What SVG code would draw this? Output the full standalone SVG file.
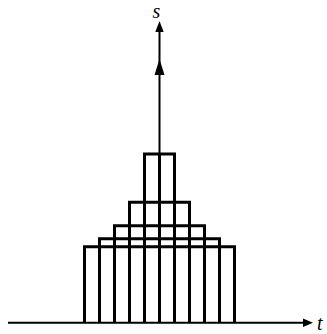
<svg xmlns="http://www.w3.org/2000/svg" width="327" height="334" viewBox="0 0 327 334">
<style>
.r{fill:none;stroke:#000;stroke-width:3;stroke-linejoin:miter}
.ax{fill:none;stroke:#000;stroke-width:2}
.lbl{font-family:"Liberation Serif",serif;font-style:italic;font-size:20px;fill:#000}
</style>
<rect width="327" height="334" fill="#fff"/>
<g id="axes">
<line class="ax" x1="8" y1="322.7" x2="306" y2="322.7"/>
<polygon points="313,322.7 303,318.5 303,326.9" fill="#000"/>
<line class="ax" x1="159.5" y1="322.7" x2="159.5" y2="28"/>
<polygon points="159.5,21 155.3,32 163.7,32" fill="#000"/>
<polygon points="159.5,59 154.5,75 164.5,75" fill="#000"/>
<text class="lbl" x="152.5" y="18">s</text>
<text class="lbl" x="317" y="330">t</text>
</g>
<g id="rects">
<polyline class="r" points="84.5,322.7 84.5,246.7 234.5,246.7 234.5,322.7"/>
<polyline class="r" points="99.5,322.7 99.5,238.7 219.5,238.7 219.5,322.7"/>
<polyline class="r" points="114.5,322.7 114.5,225.7 204.5,225.7 204.5,322.7"/>
<polyline class="r" points="129.5,322.7 129.5,202.3 189.5,202.3 189.5,322.7"/>
<polyline class="r" points="144.5,322.7 144.5,154 174.5,154 174.5,322.7"/>
<line class="r" x1="159.5" y1="154" x2="159.5" y2="322.7"/>
</g>
</svg>
